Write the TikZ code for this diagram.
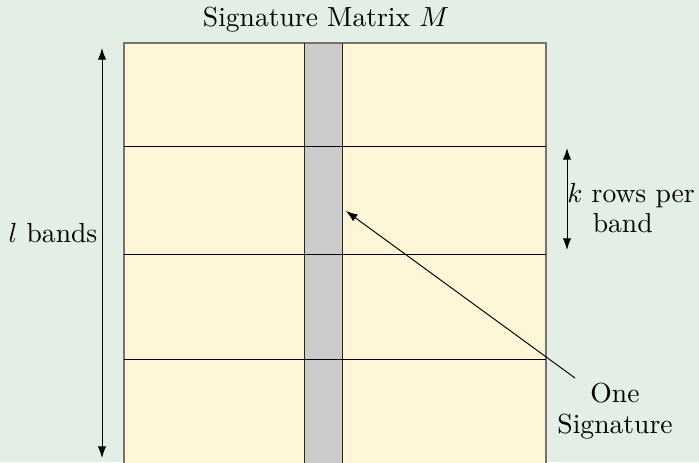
\documentclass[tikz,border=0pt]{standalone}
\usetikzlibrary{arrows.meta}
\definecolor{bgc}{HTML}{E3EEE4}
\definecolor{cellc}{HTML}{FFF5D7}
\definecolor{colc}{HTML}{CBCBCB}
\begin{document}
\begin{tikzpicture}[x=0.3623pt,y=-0.3623pt,
  dimarrow/.style={{Latex[length=4.2pt,width=3pt]}-{Latex[length=4.2pt,width=3pt]}, line width=0.35pt},
  ptrarrow/.style={-{Latex[length=4.2pt,width=3pt]}, line width=0.35pt},
  lab/.style={inner sep=0pt, font=\normalsize}]
\fill[bgc] (0,0) rectangle (699,462);
\useasboundingbox (0,0) rectangle (699,462);
% matrix
\fill[cellc] (124,43) rectangle (546,470);
\fill[colc] (304,43) rectangle (342,470);
\draw[black!55, line width=0.4pt] (124,470) -- (124,43) -- (546,43) -- (546,470);
\draw[black!85, line width=0.3pt] (304,43) -- (304,470) (342,43) -- (342,470);
\draw[black, line width=0.3pt] (124,146) -- (546,146) (124,254) -- (546,254) (124,359) -- (546,359);
% labels
\node[lab] (title) at (326,20) {Signature Matrix $M$};
\node[lab] (lb) at (53,233) {$l$ bands};
\coordinate (ltop) at (102,48);
\coordinate (lbot) at (102,458);
\draw[dimarrow] (ltop) -- (lbot);
\coordinate (ktop) at (567,148);
\coordinate (kbot) at (567,250);
\draw[dimarrow] (ktop) -- (kbot);
\node[lab, align=center] (kl) at (631,208) {$k$ rows per\\[-1pt]\hspace*{-6pt}band};
\node[lab, align=center] (sig) at (615,411) {One\\[-1pt]Signature};
\coordinate (tip) at (346,211);
\coordinate (tail) at (575,378);
\draw[ptrarrow] (tail) -- (tip);
\end{tikzpicture}
\end{document}
